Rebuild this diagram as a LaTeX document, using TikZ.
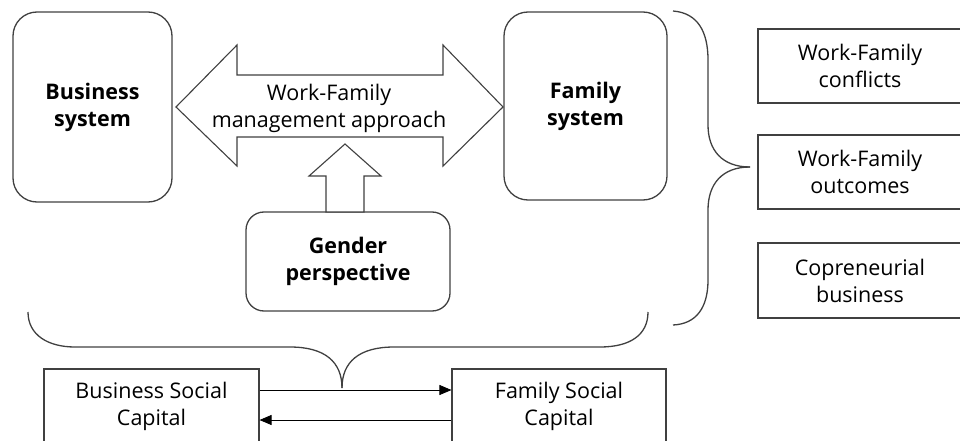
\documentclass[tikz,border=0pt]{standalone}
\usepackage{fontspec}
\setmainfont{Open Sans}
\usetikzlibrary{arrows.meta}
\definecolor{ln}{HTML}{404040}
\begin{document}
\begin{tikzpicture}[x=1pt,y=-1pt,
  every node/.style={font=\fontsize{21.5}{27}\selectfont, align=center, inner sep=0pt},
  bold/.style={font=\fontsize{21.5}{27}\selectfont\bfseries},
  sysbox/.style={draw=ln, line width=1.3pt, rounded corners=24pt},
  genbox/.style={draw=ln, line width=1.3pt, rounded corners=18pt},
  plainbox/.style={draw=ln, line width=1.1pt},
  shape line/.style={draw=ln, line width=1.1pt, fill=white, line join=miter},
  brace/.style={draw=ln, line width=1.3pt},
  conn/.style={draw=black, line width=0.8pt, -{Triangle[length=12pt,width=10pt]}}]
\useasboundingbox (0,0) rectangle (960,441);
% main system boxes
\node[sysbox, bold, minimum width=159pt, minimum height=190pt] (bs) at (92.5,107) {Business\\system};
\node[sysbox, bold, minimum width=163pt, minimum height=188pt] (fs) at (585.5,106) {Family\\system};
% double arrow
\path[shape line] (176,107) -- (237,45) -- (237,75) -- (443,75) -- (443,45) -- (503,107) -- (443,166) -- (443,137) -- (237,137) -- (237,166) -- cycle;
\node (wfm) at (329,108) {Work-Family\\management approach};
% gender box
\node[genbox, bold, minimum width=204pt, minimum height=99pt] (gp) at (348,261.5) {Gender\\perspective};
% up arrow
\path[shape line] (345,144) -- (381,176) -- (364,176) -- (364,212) -- (326,212) -- (326,176) -- (309,176) -- cycle;
% right boxes
\node[plainbox, minimum width=204pt, minimum height=74pt] (wfc) at (860,66) {Work-Family\\conflicts};
\node[plainbox, minimum width=204pt, minimum height=74pt] (wfo) at (860,172) {Work-Family\\outcomes};
\node[plainbox, minimum width=204pt, minimum height=75pt] (cb) at (860,280.5) {Copreneurial\\business};
% social capital boxes
\node[plainbox, minimum width=215pt, minimum height=74pt] (bsc) at (151.5,406) {Business Social\\Capital};
\node[plainbox, minimum width=214pt, minimum height=74pt] (fsc) at (559,406) {Family Social\\Capital};
% braces
\path[brace] (28,312) .. controls (28,335) and (48,347) .. (75,347) -- (290,347) .. controls (325,347) and (342,362) .. (342,388);
\path[brace] (342,388) .. controls (342,362) and (359,347) .. (394,347) -- (600,347) .. controls (630,347) and (648,335) .. (648,312);
\path[brace] (673,11) .. controls (698,13) and (708,32) .. (708,60) -- (708,125) .. controls (708,150) and (722,167) .. (750,167);
\path[brace] (750,167) .. controls (722,167) and (708,184) .. (708,210) -- (708,280) .. controls (708,308) and (696,324) .. (673,325);
% connectors
\coordinate (c1) at (0,390);
\coordinate (c2) at (0,420);
\draw[conn] (bsc.east |- c1) -- (fsc.west |- c1);
\draw[conn] (fsc.west |- c2) -- (bsc.east |- c2);
\end{tikzpicture}
\end{document}
